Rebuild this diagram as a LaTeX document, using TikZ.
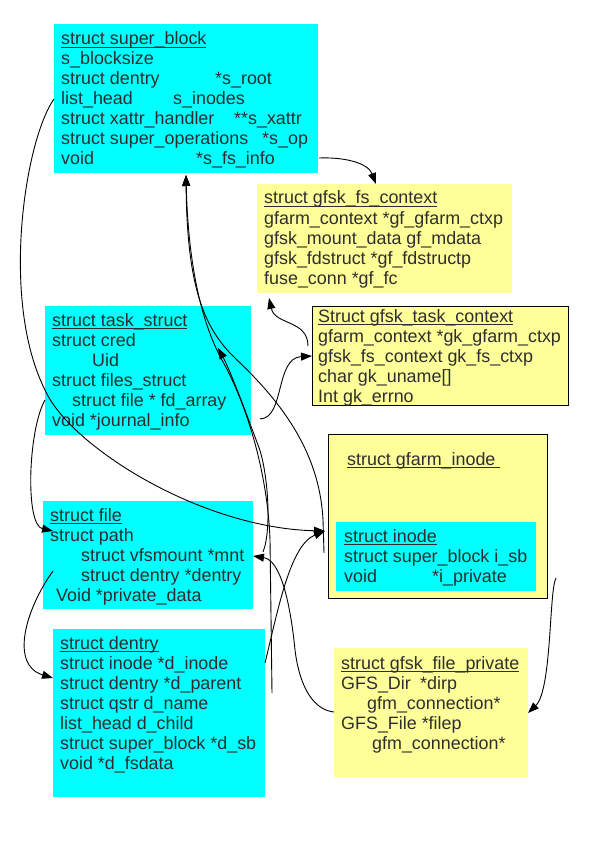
\documentclass[tikz,border=0pt]{standalone}
\usepackage{fontspec}
\setmainfont{Liberation Sans}
\usetikzlibrary{arrows.meta}
\definecolor{cy}{HTML}{00FFFF}
\definecolor{yl}{HTML}{FFFF99}
\definecolor{tx}{HTML}{2E2E2E}
\newcommand\ulx[1]{\setbox0\hbox{#1}\rlap{\rule[-2.6pt]{\wd0}{0.9pt}}\box0}
\begin{document}
\begin{tikzpicture}[x=1pt,y=-1pt,
  cybox/.style={fill=cy, draw=none, inner sep=0pt, anchor=north west},
  ylbox/.style={fill=yl, draw=none, inner sep=0pt, anchor=north west},
  ylframe/.style={fill=yl, draw=black, line width=0.9pt, inner sep=0pt, anchor=north west},
  txt/.style={anchor=base west, inner sep=0pt, text=tx, font=\fontsize{17.9}{20}\selectfont},
  conn/.style={draw=black, line width=0.9pt},
  arr/.style={conn, -{Triangle[length=11pt,width=8pt]}}]
\useasboundingbox[fill=white] (0,0) rectangle (595,842);

% ---------- super_block ----------
\node[cybox, minimum width=264pt, minimum height=149pt] (sb) at (54,24) {};
\node[txt] (sb1) at (61,45) {\ulx{struct super\_block}};
\node[txt] (sb2) at (61,65) {s\_blocksize};
\node[txt] (sb3) at (61,85) {struct dentry};
\node[txt] (sb3b) at (215,85) {*s\_root};
\node[txt] (sb4) at (61,105) {list\_head};
\node[txt] (sb4b) at (173,105) {s\_inodes};
\node[txt] (sb5) at (61,125) {struct xattr\_handler};
\node[txt] (sb5b) at (234,125) {**s\_xattr};
\node[txt] (sb6) at (61,145) {struct super\_operations};
\node[txt] (sb6b) at (262,145) {*s\_op};
\node[txt] (sb7) at (61,165) {void};
\node[txt] (sb7b) at (196,165) {*s\_fs\_info};

% ---------- gfsk_fs_context ----------
\node[ylbox, minimum width=255pt, minimum height=109pt] (fc) at (257,184) {};
\node[txt] (fc1) at (264,204) {\ulx{struct gfsk\_fs\_context}};
\node[txt] (fc2) at (264,224) {gfarm\_context *gf\_gfarm\_ctxp};
\node[txt] (fc3) at (264,244) {gfsk\_mount\_data gf\_mdata};
\node[txt] (fc4) at (264,264) {gfsk\_fdstruct *gf\_fdstructp};
\node[txt] (fc5) at (264,284) {fuse\_conn *gf\_fc};

% ---------- gfsk_task_context ----------
\node[ylframe, minimum width=256pt, minimum height=99pt] (tc) at (312,306) {};
\node[txt] (tc1) at (318,322) {\ulx{Struct gfsk\_task\_context}};
\node[txt] (tc2) at (318,342) {gfarm\_context *gk\_gfarm\_ctxp};
\node[txt] (tc3) at (318,362) {gfsk\_fs\_context gk\_fs\_ctxp};
\node[txt] (tc4) at (318,382) {char gk\_uname[]};
\node[txt] (tc5) at (318,402) {Int gk\_errno};

% ---------- task_struct ----------
\node[cybox, minimum width=206pt, minimum height=129pt] (ts) at (45,306) {};
\node[txt] (ts1) at (52,326) {\ulx{struct task\_struct}};
\node[txt] (ts2) at (52,346) {struct cred};
\node[txt] (ts3) at (92,366) {Uid};
\node[txt] (ts4) at (52,386) {struct files\_struct};
\node[txt] (ts5) at (72,406) {struct file * fd\_array};
\node[txt] (ts6) at (52,426) {void *journal\_info};

% ---------- file ----------
\node[cybox, minimum width=210pt, minimum height=108pt] (fi) at (43,501) {};
\node[txt] (fi1) at (50,521) {\ulx{struct file}};
\node[txt] (fi2) at (50,541) {struct path};
\node[txt] (fi3) at (81,561) {struct vfsmount *mnt};
\node[txt] (fi4) at (81,581) {struct dentry *dentry};
\node[txt] (fi5) at (56,601) {Void *private\_data};

% ---------- gfarm_inode ----------
\node[ylframe, minimum width=219pt, minimum height=164pt] (gi) at (328,434) {};
\node[txt] (gi1) at (347,465) {\ulx{struct gfarm\_inode }};
\node[cybox, minimum width=200pt, minimum height=69pt] (in) at (336,522) {};
\node[txt] (in1) at (344,542) {\ulx{struct inode}};
\node[txt] (in2) at (344,562) {struct super\_block i\_sb};
\node[txt] (in3) at (344,582) {void};
\node[txt] (in3b) at (432,582) {*i\_private};

% ---------- dentry ----------
\node[cybox, minimum width=212pt, minimum height=168pt] (de) at (53,629) {};
\node[txt] (de1) at (60,649) {\ulx{struct dentry}};
\node[txt] (de2) at (60,669) {struct inode *d\_inode};
\node[txt] (de3) at (60,689) {struct dentry *d\_parent};
\node[txt] (de4) at (60,709) {struct qstr d\_name};
\node[txt] (de5) at (60,729) {list\_head d\_child};
\node[txt] (de6) at (60,749) {struct super\_block *d\_sb};
\node[txt] (de7) at (60,769) {void *d\_fsdata};

% ---------- gfsk_file_private ----------
\node[ylbox, minimum width=194pt, minimum height=129pt] (fp) at (334,648) {};
\node[txt] (fp1) at (341,669) {\ulx{struct gfsk\_file\_private}};
\node[txt] (fp2) at (341,689) {GFS\_Dir};
\node[txt] (fp2b) at (420,689) {*dirp};
\node[txt] (fp3) at (367,709) {gfm\_connection*};
\node[txt] (fp4) at (341,729) {GFS\_File *filep};
\node[txt] (fp5) at (372,749) {gfm\_connection*};

% ---------- connector end points ----------
\coordinate (sbinfo) at (319,158);
\coordinate (fctop) at (376,184);
\coordinate (sblist) at (54,99);
\coordinate (gileft) at (325,531);
\coordinate (tsfd) at (45,400);
\coordinate (fipath) at (53,531);
\coordinate (fident) at (53,571);
\coordinate (deent) at (53,678);
\coordinate (tsjour) at (260,419);
\coordinate (tcfs) at (312,356);
\coordinate (tcleft) at (308,346);
\coordinate (fcbot) at (269,298);
\coordinate (sbbot) at (186,175);
\coordinate (insb) at (324,553);
\coordinate (desb) at (272,693);
\coordinate (deino) at (265,663);
\coordinate (fimnt) at (253,556);
\coordinate (fpleft) at (334,712);
\coordinate (mntup) at (263,552);
\coordinate (tsarr) at (218,348);
\coordinate (inpriv) at (556,578);
\coordinate (fpright) at (528,713);

% ---------- connectors ----------
\draw[arr] (sbinfo) .. controls (345,157) and (368,163) .. (fctop);
\draw[arr] (sblist) .. controls (25,140) and (0,300) .. (45,390)
                    .. controls (70,446) and (200,528) .. (gileft);
\draw[arr] (tsfd) .. controls (28,430) and (25,525) .. (fipath);
\draw[arr] (fident) .. controls (25,610) and (10,665) .. (deent);
\draw[arr] (tsjour) .. controls (285,418) and (275,358) .. (tcfs);
\draw[arr] (tcleft) .. controls (308,320) and (275,325) .. (fcbot);
\draw[arr] (insb) -- (323,520) .. controls (320,460) and (290,410) .. (237,360)
                  .. controls (205,330) and (187,290) .. (sbbot);
\draw[arr] (desb) -- (270,540) .. controls (268,480) and (250,410) .. (222,360)
                  .. controls (200,320) and (188,260) .. (sbbot);
\draw[arr] (deino) .. controls (278,610) and (290,545) .. (gileft);
\draw[arr] (mntup) .. controls (272,530) and (268,470) .. (258,445)
                   .. controls (245,410) and (230,370) .. (tsarr);
\draw[arr, {Triangle[length=11pt,width=8pt]}-] (fimnt) .. controls (280,560) and (290,600) .. (295,650)
                   .. controls (300,690) and (315,710) .. (fpleft);
\draw[arr] (inpriv) .. controls (549,590) and (552,690) .. (fpright);
\end{tikzpicture}
\end{document}
